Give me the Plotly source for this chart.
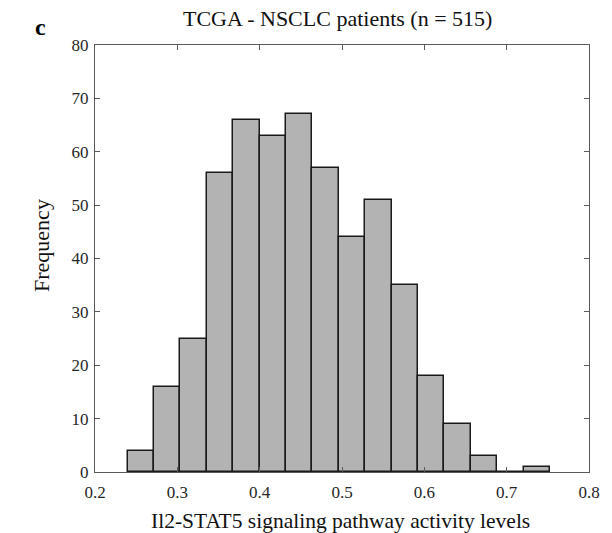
import plotly.graph_objects as go

bin_start = 0.2397
bin_width = 0.03206
counts = [4, 16, 25, 56, 66, 63, 67, 57, 44, 51, 35, 18, 9, 3, 0, 1]
x_ticks = [0.2, 0.3, 0.4, 0.5, 0.6, 0.7, 0.8]
y_ticks = [0, 10, 20, 30, 40, 50, 60, 70, 80]
title_text = "TCGA - NSCLC patients (n = 515)"
x_label = "Il2-STAT5 signaling pathway activity levels"
y_label = "Frequency"

centers = [bin_start + bin_width * (i + 0.5) for i in range(len(counts))]

font = "Liberation Serif, Times New Roman, serif"
W, H = 612, 533
ML, MR, MT, MB = 95, 14, 45, 61
pw = W - ML - MR
ph = H - MT - MB


def px(x):
    return (x - ML) / pw


def py(y):
    return (H - MB - y) / ph


fig = go.Figure()
fig.add_trace(go.Bar(
    x=centers, y=counts, width=[bin_width] * len(counts),
    marker=dict(color="#b3b3b3", line=dict(color="#1a1a1a", width=1.5)),
    showlegend=False,
))

axis_common = dict(
    showgrid=False, zeroline=False, showline=True, linecolor="#5a5a5a",
    linewidth=1.2, mirror="ticks", ticks="inside", ticklen=5, tickcolor="#5a5a5a",
    tickfont=dict(family=font, size=17, color="#262626"),
)

fig.update_layout(
    width=W, height=H,
    margin=dict(l=ML, r=MR, t=MT, b=MB),
    paper_bgcolor="white", plot_bgcolor="white",
    bargap=0,
    xaxis=dict(range=[0.2, 0.8], tickvals=x_ticks, ticktext=[f"{v:.1f}" for v in x_ticks],
               ticklabelstandoff=4, **axis_common),
    yaxis=dict(range=[0, 80], tickvals=y_ticks, ticklabelstandoff=2, **axis_common),
    annotations=[
        dict(text=title_text, xref="paper", yref="paper", x=px(342), y=py(19),
             xanchor="center", yanchor="middle", showarrow=False,
             font=dict(family=font, size=22, color="#111111")),
        dict(text="<b>c</b>", xref="paper", yref="paper", x=px(40), y=py(27),
             xanchor="center", yanchor="middle", showarrow=False,
             font=dict(family=font, size=24, color="black")),
        dict(text=x_label, xref="paper", yref="paper", x=px(345), y=py(521),
             xanchor="center", yanchor="middle", showarrow=False,
             font=dict(family=font, size=21.5, color="#111111")),
        dict(text=y_label, xref="paper", yref="paper", x=px(41), y=py(245),
             xanchor="center", yanchor="middle", showarrow=False, textangle=-90,
             font=dict(family=font, size=22, color="#111111")),
    ],
)

fig.write_html("out.html")
